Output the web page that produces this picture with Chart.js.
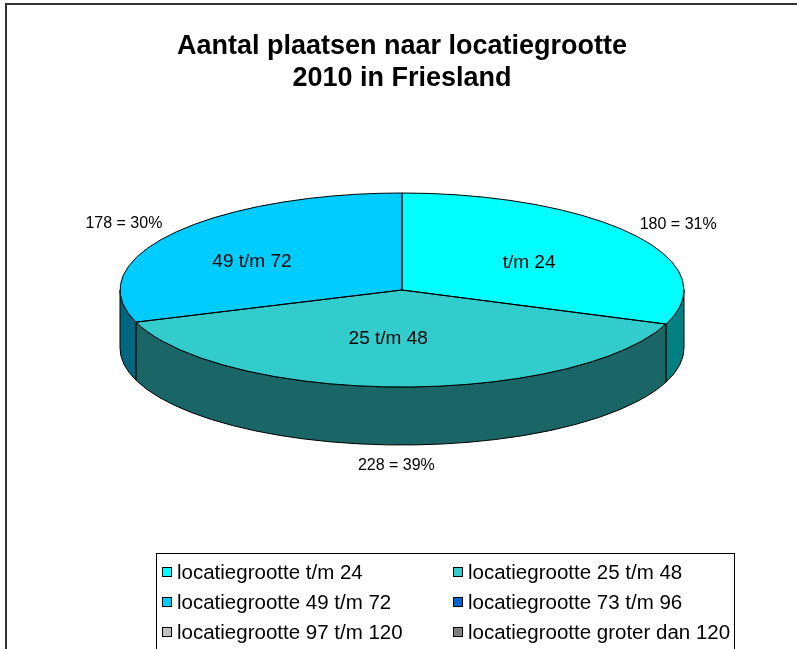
<!DOCTYPE html>
<html>
<head>
<meta charset="utf-8">
<script src="https://cdn.jsdelivr.net/npm/chart.js@4.4.1/dist/chart.umd.min.js"></script>
<style>
  html, body { margin: 0; padding: 0; background: #fff; }
  #wrap { position: relative; width: 797px; height: 649px; }
</style>
</head>
<body>
<div id="wrap"><canvas id="pieChart" width="797" height="649"></canvas></div>
<script>
// data
const labels = ['t/m 24', '25 t/m 48', '49 t/m 72', '73 t/m 96', '97 t/m 120', 'groter dan 120'];
const legendLabels = ['locatiegrootte t/m 24', 'locatiegrootte 25 t/m 48', 'locatiegrootte 49 t/m 72',
    'locatiegrootte 73 t/m 96', 'locatiegrootte 97 t/m 120', 'locatiegrootte groter dan 120'];
const places = [180, 228, 178, 0, 0, 0];
const topColors = ['#00FFFF', '#33CCCC', '#00CCFF', '#0066CC', '#C0C0C0', '#808080'];
const sideColors = ['#008080', '#1A6666', '#006680', '#003366', '#606060', '#404040'];

const FONT = '"Liberation Sans", Arial, sans-serif';
const CX = 402, CY = 290, RX = 282, RY = 97, DEPTH = 58;
const TILT = RY / RX;

// frame lines (top + left only, like the cropped original)
const framePlugin = {
    id: 'frame',
    beforeDraw(chart) {
        const ctx = chart.ctx;
        ctx.save();
        ctx.strokeStyle = '#333';
        ctx.lineWidth = 2;
        ctx.beginPath();
        ctx.moveTo(6, 649);
        ctx.lineTo(6, 4);
        ctx.lineTo(797, 4);
        ctx.stroke();
        ctx.restore();
    }
};

// fake 3D: side walls first, squash the pie, then outline on top
const pie3d = {
    id: 'pie3d',
    beforeDatasetsDraw(chart) {
        const ctx = chart.ctx;
        const arcs = chart.getDatasetMeta(0).data;
        ctx.save();
        ctx.lineWidth = 1;
        ctx.strokeStyle = '#000';
        arcs.forEach((a, i) => {
            if (!places[i]) return;
            const s = Math.max(a.startAngle, 0);
            const e = Math.min(a.endAngle, Math.PI);
            if (e <= s) return;
            ctx.beginPath();
            ctx.ellipse(CX, CY, RX, RY, 0, s, e, false);
            ctx.lineTo(CX + RX * Math.cos(e), CY + DEPTH + RY * Math.sin(e));
            ctx.ellipse(CX, CY + DEPTH, RX, RY, 0, e, s, true);
            ctx.closePath();
            ctx.fillStyle = sideColors[i];
            ctx.fill();
            ctx.stroke();
        });
        ctx.restore();

        // map the library's circle (centred at the arc x/y) onto the flat ellipse
        const c = arcs[0];
        ctx.save();
        ctx.translate(CX, CY);
        ctx.scale(1, TILT);
        ctx.translate(-c.x, -c.y);
    },
    afterDatasetsDraw(chart) {
        const ctx = chart.ctx;
        ctx.restore();
        const arcs = chart.getDatasetMeta(0).data;
        const total = places.reduce((p, v) => p + v, 0);
        ctx.save();
        ctx.lineWidth = 1;
        ctx.strokeStyle = '#000';
        arcs.forEach((a, i) => {
            if (!places[i]) return;
            ctx.beginPath();
            ctx.moveTo(CX, CY);
            ctx.ellipse(CX, CY, RX, RY, 0, a.startAngle, a.endAngle, false);
            ctx.closePath();
            ctx.stroke();
        });
        ctx.fillStyle = '#000';
        ctx.textAlign = 'center';
        ctx.textBaseline = 'middle';
        arcs.forEach((a, i) => {
            if (!places[i]) return;
            const mid = (a.startAngle + a.endAngle) / 2;
            const dx = Math.cos(mid), dy = Math.sin(mid);
            ctx.font = '19px ' + FONT;
            ctx.fillText(labels[i], CX + RX * 0.6 * dx - 12, CY + RY * 0.5 * dy);
            const pct = Math.round(places[i] / total * 100);
            ctx.font = '16px ' + FONT;
            ctx.fillText(places[i] + ' = ' + pct + '%',
                CX + RX * 1.2 * dx - 2, CY + RY * 1.2 * dy + (dy > 0 ? DEPTH : 0) + 1);
        });
        ctx.restore();
    }
};

// legend box with two aligned columns
const legendBox = {
    id: 'legendBox',
    afterDraw(chart) {
        const ctx = chart.ctx;
        const left = 156, top = 553, right = 734, bottom = 649;
        ctx.save();
        ctx.strokeStyle = '#000';
        ctx.lineWidth = 1;
        ctx.strokeRect(left + 0.5, top + 0.5, right - left, bottom - top + 2);
        ctx.font = '20.5px ' + FONT;
        ctx.textBaseline = 'middle';
        ctx.textAlign = 'left';
        legendLabels.forEach((t, i) => {
            const col = i % 2, row = Math.floor(i / 2);
            const x = col ? 453 : 162;
            const y = 572 + row * 30;
            ctx.fillStyle = topColors[i];
            ctx.fillRect(x, y - 5, 10, 10);
            ctx.strokeStyle = '#000';
            ctx.strokeRect(x + 0.5, y - 4.5, 9, 9);
            ctx.fillStyle = '#000';
            ctx.fillText(t, x + 15, y + 1);
        });
        ctx.restore();
    }
};

const pieChart = new Chart(document.getElementById('pieChart'), {
    type: 'pie',
    data: {
        labels: labels,
        datasets: [{
            data: places,
            backgroundColor: topColors,
            borderWidth: 0,
            radius: RX,
            clip: false
        }]
    },
    options: {
        responsive: false,
        animation: false,
        events: [],
        layout: {
            padding: { left: 7, right: 0, top: 0, bottom: 0 }
        },
        plugins: {
            legend: { display: false },
            tooltip: { enabled: false },
            title: {
                display: true,
                text: ['Aantal plaatsen naar locatiegrootte', '2010 in Friesland'],
                color: '#000',
                font: { family: FONT, size: 27, weight: 'bold', lineHeight: 32 / 27 },
                padding: { top: 31, bottom: 0 }
            }
        }
    },
    plugins: [framePlugin, pie3d, legendBox]
});
</script>
</body>
</html>
